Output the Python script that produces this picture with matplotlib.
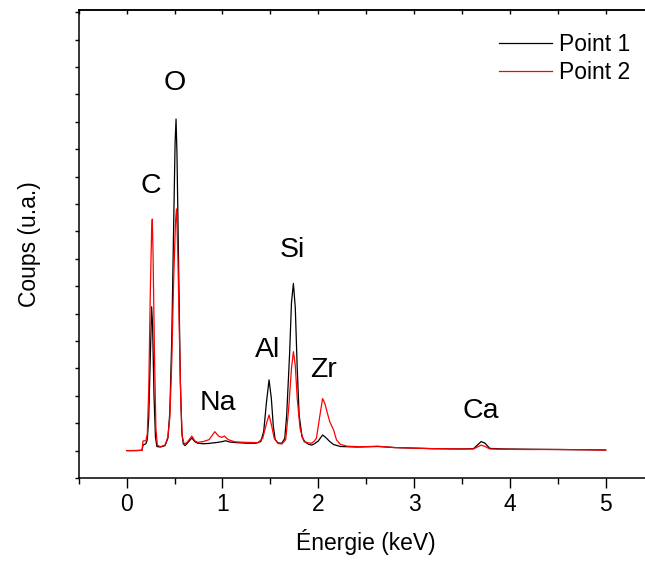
import matplotlib
matplotlib.use("Agg")
import matplotlib.pyplot as plt
from matplotlib.ticker import MultipleLocator, NullFormatter

plt.rcParams["font.family"] = ["Liberation Sans", "DejaVu Sans"]

# EDS spectra (energy in keV, counts in a.u.)
energy_1 = [0.00, 0.10, 0.16, 0.17, 0.20, 0.215, 0.23, 0.245, 0.26, 0.27, 0.285, 0.30, 0.315,
            0.35, 0.40, 0.43, 0.45, 0.47, 0.49, 0.505, 0.515, 0.525, 0.545, 0.56, 0.575, 0.59,
            0.61, 0.64, 0.68, 0.71, 0.74, 0.80, 0.85, 0.90, 0.95, 1.00, 1.03, 1.08, 1.15, 1.25,
            1.35, 1.40, 1.43, 1.46, 1.486, 1.51, 1.53, 1.55, 1.58, 1.62, 1.65, 1.67, 1.70, 1.72,
            1.74, 1.76, 1.78, 1.80, 1.83, 1.86, 1.90, 1.93, 1.96, 2.00, 2.045, 2.08, 2.12, 2.16,
            2.23, 2.40, 2.62, 2.80, 3.00, 3.20, 3.50, 3.62, 3.66, 3.70, 3.74, 3.79, 3.93, 4.20,
            4.50, 4.80, 5.00]
counts_1 = [1000, 1000, 1010, 1200, 1250, 1400, 2200, 4200, 6250, 5600, 3000, 1500, 1150,
            1130, 1180, 1450, 2400, 5000, 9200, 12200, 13100, 11800, 7000, 3500, 1700, 1250,
            1180, 1300, 1460, 1330, 1270, 1250, 1260, 1280, 1300, 1330, 1360, 1310, 1290, 1270,
            1270, 1330, 1700, 2800, 3580, 2900, 1900, 1400, 1280, 1270, 1450, 2300, 4500, 6400,
            7100, 6200, 4000, 2300, 1500, 1320, 1230, 1200, 1250, 1350, 1570, 1470, 1330, 1220,
            1150, 1130, 1150, 1110, 1090, 1070, 1060, 1070, 1200, 1330, 1270, 1080, 1060, 1050,
            1040, 1030, 1020]

energy_2 = [0.00, 0.16, 0.17, 0.20, 0.215, 0.23, 0.245, 0.26, 0.267, 0.275, 0.29, 0.305, 0.32,
            0.35, 0.40, 0.43, 0.45, 0.47, 0.49, 0.51, 0.52, 0.535, 0.55, 0.565, 0.58, 0.60,
            0.63, 0.68, 0.71, 0.74, 0.80, 0.86, 0.92, 0.96, 0.99, 1.02, 1.06, 1.13, 1.25, 1.37,
            1.42, 1.46, 1.486, 1.51, 1.54, 1.58, 1.62, 1.66, 1.69, 1.72, 1.74, 1.76, 1.78, 1.81,
            1.85, 1.90, 1.93, 1.96, 1.98, 2.00, 2.02, 2.045, 2.07, 2.10, 2.12, 2.16, 2.19, 2.23,
            2.30, 2.45, 2.62, 2.80, 3.00, 3.20, 3.50, 3.62, 3.66, 3.70, 3.74, 3.79, 3.93, 4.20,
            4.50, 4.80, 5.00]
counts_2 = [1000, 1010, 1350, 1360, 1600, 3200, 6500, 9000, 9450, 8200, 4500, 1800, 1200,
            1140, 1200, 1500, 2200, 4200, 7200, 9400, 9820, 8000, 5200, 2800, 1500, 1240,
            1300, 1530, 1360, 1300, 1330, 1400, 1690, 1530, 1480, 1530, 1400, 1320, 1300, 1290,
            1450, 2000, 2300, 1950, 1450, 1260, 1240, 1400, 2500, 4000, 4610, 4100, 2900, 1800,
            1330, 1280, 1270, 1350, 1450, 1900, 2360, 2900, 2700, 2300, 2050, 1750, 1390, 1230,
            1160, 1140, 1160, 1110, 1090, 1070, 1060, 1060, 1130, 1200, 1150, 1060, 1050, 1040,
            1040, 1030, 1020]

elements = ["O", "C", "Na", "Al", "Si", "Zr", "Ca"]
element_x = [0.505, 0.25, 0.956, 1.467, 1.727, 2.059, 3.695]
element_y = [14420, 10660, 2730, 4670, 8320, 3940, 2460]

fig = plt.figure(figsize=(6.45, 5.62), dpi=100)
ax = fig.add_axes([78.8 / 645, 84 / 562, 574.8 / 645, 468 / 562])

ax.plot(energy_1, counts_1, color="black", lw=0.9, label="Point 1")
ax.plot(energy_2, counts_2, color="red", lw=0.9, label="Point 2")

for name, ex, ey in zip(elements, element_x, element_y):
    ax.text(ex, ey, name, fontsize=20.5, ha="center", va="center")

ax.set_xlim(-0.5, 5.5)
ax.set_ylim(0, 17080)
ax.xaxis.set_major_locator(MultipleLocator(1))
ax.xaxis.set_minor_locator(MultipleLocator(0.5))
ax.yaxis.set_major_locator(MultipleLocator(1000))
ax.yaxis.set_major_formatter(NullFormatter())
ax.tick_params(axis="x", which="major", direction="out", length=7, width=1, labelsize=16.5, pad=4)
ax.tick_params(axis="x", which="minor", direction="out", length=4, width=1)
ax.tick_params(axis="y", direction="out", length=3, width=1)
for s in ax.spines.values():
    s.set_linewidth(1.1)

top = ax.secondary_xaxis("top")
top.xaxis.set_major_locator(MultipleLocator(0.5))
top.tick_params(direction="in", length=3, width=1, labeltop=False)
top.spines["top"].set_linewidth(1.1)

ax.set_xlabel("Énergie (keV)", fontsize=16.5, labelpad=9)
ax.set_ylabel("Coups (u.a.)", fontsize=16.5, labelpad=21)

ax.legend(loc="upper left", bbox_to_anchor=(499 / 645, 1 - 33 / 562), bbox_transform=fig.transFigure,
          frameon=False, fontsize=16.5, handlelength=2.3, handletextpad=0.3, labelspacing=0.2,
          borderaxespad=0, borderpad=0)

fig.savefig("out.png", dpi=100)
